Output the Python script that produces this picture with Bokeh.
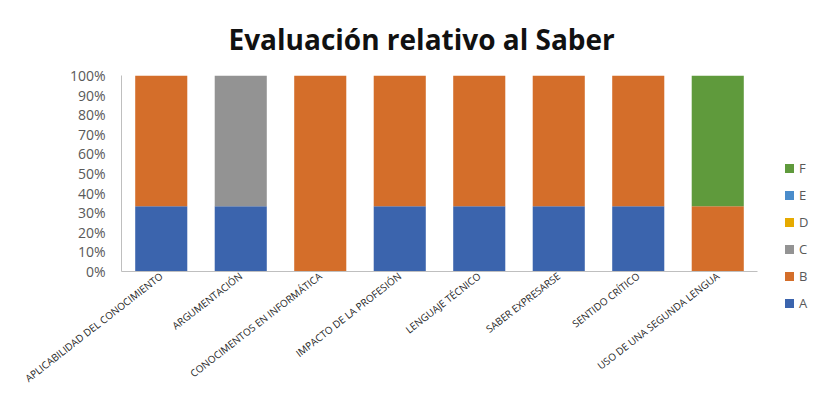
from bokeh.plotting import figure
from bokeh.layouts import row
from bokeh.models import FixedTicker, NumeralTickFormatter, ColumnDataSource, Div
from bokeh.embed import file_html
from bokeh.resources import INLINE

title_text = "Evaluación relativo al Saber"
categories = [
    "APLICABILIDAD DEL CONOCIMIENTO",
    "ARGUMENTACIÓN",
    "CONOCIMENTOS EN INFORMÁTICA",
    "IMPACTO DE LA PROFESIÓN",
    "LENGUAJE TÉCNICO",
    "SABER EXPRESARSE",
    "SENTIDO CRÍTICO",
    "USO DE UNA SEGUNDA LENGUA",
]
series_names = ["A", "B", "C", "D", "E", "F"]
A = [0.333, 0.333, 0.0, 0.333, 0.333, 0.333, 0.333, 0.0]
B = [0.667, 0.0, 1.0, 0.667, 0.667, 0.667, 0.667, 0.333]
C = [0.0, 0.667, 0.0, 0.0, 0.0, 0.0, 0.0, 0.0]
D = [0.0, 0.0, 0.0, 0.0, 0.0, 0.0, 0.0, 0.0]
E = [0.0, 0.0, 0.0, 0.0, 0.0, 0.0, 0.0, 0.0]
F = [0.0, 0.0, 0.0, 0.0, 0.0, 0.0, 0.0, 0.667]
colors = ["#3B64AD", "#D46E2A", "#939393", "#E6AA00", "#4A8CCB", "#5F9A3C"]
y_ticks = [0.0, 0.1, 0.2, 0.3, 0.4, 0.5, 0.6, 0.7, 0.8, 0.9, 1.0]

source = ColumnDataSource(dict(cat=categories, A=A, B=B, C=C, D=D, E=E, F=F))

p = figure(
    x_range=categories, y_range=(0, 1),
    width=762, height=393,
    output_backend="svg", toolbar_location=None,
    min_border_left=121, min_border_right=5, min_border_top=74, min_border_bottom=110,
)

p.vbar_stack(series_names, x="cat", width=0.655, source=source,
             color=colors, line_color=None)

p.title.text = title_text
p.title.align = "left"
p.title.offset = 107
p.title.text_font = "Open Sans"
p.title.text_font_style = "bold"
p.title.text_font_size = "28px"
p.title.text_color = "#111111"
p.title.standoff = 35

p.xgrid.visible = False
p.ygrid.visible = False
p.outline_line_color = None

xa = p.xaxis[0]
xa.axis_line_color = "#bfbfbf"
xa.major_tick_line_color = None
xa.minor_tick_line_color = None
xa.major_tick_out = 0
xa.major_tick_in = 0
xa.major_label_orientation = 0.66
xa.major_label_standoff = 3
xa.major_label_text_font = "Open Sans"
xa.major_label_text_font_size = "10px"
xa.major_label_text_color = "#262626"

ya = p.yaxis[0]
ya.ticker = FixedTicker(ticks=y_ticks)
ya.formatter = NumeralTickFormatter(format="0%")
ya.axis_line_color = "#bfbfbf"
ya.major_tick_line_color = None
ya.minor_tick_line_color = None
ya.major_tick_out = 0
ya.major_tick_in = 0
ya.major_label_standoff = 16
ya.major_label_text_font = "Open Sans"
ya.major_label_text_font_size = "14px"
ya.major_label_text_color = "#595959"

# legend (top item F down to A), as HTML next to the plot
rows_html = "".join(
    '<div style="height:27px;display:flex;align-items:center;">'
    f'<span style="display:inline-block;width:9px;height:9px;background:{c};margin-right:5px;"></span>'
    f'<span>{n}</span></div>'
    for n, c in zip(series_names[::-1], colors[::-1])
)
legend_div = Div(
    text=f'<div style="padding-top:150px;padding-left:18px;font-family:\'Open Sans\';'
         f'font-size:13px;line-height:13px;color:#595959;">{rows_html}</div>',
    width=39, height=393,
    styles={"overflow": "visible"},
)

layout = row(p, legend_div, spacing=0)
open("out.html", "w").write(file_html(layout, INLINE))
